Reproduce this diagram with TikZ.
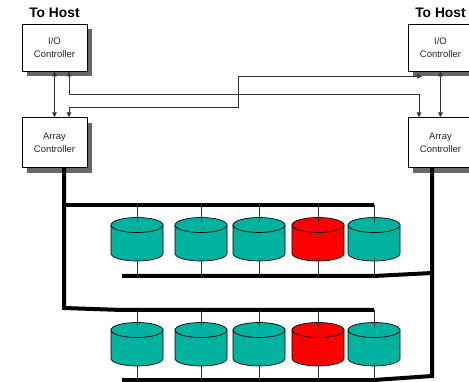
\documentclass[tikz,border=0pt]{standalone}
\usepackage{fontspec}
\setmainfont{Liberation Sans}
\usetikzlibrary{arrows.meta, positioning, shadows, calc}

\definecolor{diskteal}{RGB}{0,179,161}
\definecolor{diskred}{RGB}{255,0,0}

\begin{document}
\begin{tikzpicture}[
  x=1pt, y=-1pt,
  ctrl/.style={draw=black, line width=0.6pt, fill=white, align=center, minimum width=65pt,
    font=\fontsize{9.5}{13}\selectfont, text=black!85, inner sep=0pt,
    drop shadow={shadow xshift=5pt, shadow yshift=-5pt, fill=black!60, opacity=1}},
  host/.style={font=\fontsize{13.8}{16}\selectfont\bfseries, inner sep=0.5pt},
  link/.style={line width=0.7pt, draw=black!80},
  twoarrow/.style={link, {Triangle[length=5pt, width=4.5pt]}-{Triangle[length=5pt, width=4.5pt]}},
  bus/.style={line width=4pt, draw=black},
  disk/.style={line width=0.7pt, draw=black}
]
  \useasboundingbox (0,0) rectangle (469,382);

  % Controllers (Left)
  \node[ctrl, minimum height=47pt] (lio) at (54.5,47.5) {I/O\\Controller};
  \node[ctrl, minimum height=50pt, below=46pt of lio] (lac) {Array\\Controller};
  \node[host, above=5.5pt of lio] (lhost) {To Host};

  % Controllers (Right)
  \node[ctrl, minimum height=47pt] (rio) at (440.5,47.5) {I/O\\Controller};
  \node[ctrl, minimum height=50pt, below=46pt of rio] (rac) {Array\\Controller};
  \node[host, above=5.5pt of rio] (rhost) {To Host};

  % Controller links
  \draw[twoarrow] (lio) -- (lac);
  \draw[twoarrow] (rio) -- (rac);
  \draw[twoarrow] ([xshift=14.5pt]lio.south) |- (419,94) -- ([xshift=-21.5pt]rac.north);
  \draw[twoarrow] ([xshift=14.5pt]lac.north) |- (238,107) |- ([xshift=-18.5pt, yshift=-5pt]rio.south);

  % Disk buses
  \coordinate (tbus1) at (64,205);
  \coordinate (bbus1) at (122,276);
  \coordinate (tbus2) at (64,310);
  \coordinate (bbus2) at (122,380);
  \draw[bus] ([xshift=9.5pt]lac.south) -- (64,308) -- (122,310) -- (374,310);
  \draw[bus] (tbus1) -- (374,205);
  \draw[bus] ([xshift=-8.5pt]rac.south) -- (432,376) -- (374,380) -- (bbus2);
  \draw[bus] (bbus1) -- (374,276) -- (432,273);

  % Disk rows
  \foreach \r/\dy in {1/0, 2/105} {
    \foreach \x/\c [count=\i] in {137/diskteal, 201/diskteal, 259/diskteal, 318/diskred, 374/diskteal} {
      \filldraw[disk, fill=\c] (\x-26, 225+\dy) -- (\x-26, 253.5+\dy)
        arc[start angle=180, end angle=360, x radius=26pt, y radius=7.5pt] -- (\x+26, 225+\dy) -- cycle;
      \filldraw[disk, fill=\c] (\x, 225+\dy) ellipse[x radius=26pt, y radius=7.5pt];
      \coordinate (t\r\i) at (\x, 223+\dy);
      \coordinate (b\r\i) at (\x, 258+\dy);
      \draw[link] (t\r\i |- tbus\r) -- (t\r\i);
      \draw[link] (b\r\i) -- (b\r\i |- bbus\r);
    }
  }
\end{tikzpicture}
\end{document}
